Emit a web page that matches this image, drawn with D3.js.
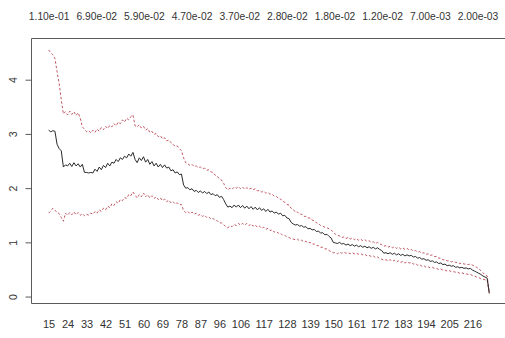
<!DOCTYPE html>
<html><head><meta charset="utf-8">
<script src="https://cdn.jsdelivr.net/npm/d3@7"></script>
<style>html,body{margin:0;padding:0;background:#fff;}svg{display:block;}</style>
</head><body>
<script>
const startIndex = 15;
const meanVals = [
3.06,3.03,3.05,3.04,2.80,2.72,2.68,2.38,2.42,2.40,
2.45,2.39,2.46,2.40,2.44,2.38,2.43,2.28,2.28,2.27,
2.28,2.27,2.34,2.30,2.38,2.33,2.41,2.37,2.45,2.40,
2.47,2.45,2.52,2.48,2.55,2.52,2.58,2.55,2.62,2.58,
2.65,2.52,2.46,2.55,2.50,2.57,2.47,2.52,2.43,2.48,
2.40,2.45,2.38,2.43,2.37,2.42,2.36,2.38,2.31,2.33,
2.27,2.29,2.24,2.25,2.05,1.99,2.00,1.96,1.98,1.93,
1.95,1.91,1.94,1.90,1.93,1.89,1.92,1.87,1.89,1.85,
1.87,1.82,1.84,1.78,1.70,1.64,1.66,1.63,1.68,1.64,
1.68,1.63,1.67,1.62,1.66,1.61,1.65,1.60,1.64,1.59,
1.63,1.58,1.61,1.56,1.60,1.55,1.57,1.53,1.55,1.51,
1.53,1.48,1.49,1.44,1.43,1.36,1.33,1.31,1.32,1.29,
1.30,1.27,1.28,1.24,1.25,1.22,1.23,1.19,1.20,1.16,
1.17,1.13,1.14,1.10,1.07,0.99,0.98,0.97,0.99,0.96,
0.97,0.94,0.96,0.93,0.95,0.92,0.94,0.91,0.93,0.90,
0.92,0.89,0.91,0.88,0.90,0.87,0.89,0.86,0.84,0.79,
0.80,0.78,0.80,0.77,0.79,0.76,0.78,0.75,0.77,0.74,
0.76,0.74,0.75,0.72,0.73,0.70,0.71,0.68,0.69,0.66,
0.67,0.64,0.65,0.62,0.63,0.60,0.61,0.58,0.59,0.56,
0.57,0.55,0.56,0.53,0.54,0.52,0.53,0.51,0.52,0.50,
0.51,0.48,0.46,0.44,0.42,0.40,0.37,0.35,0.33,0.05
];
const upperVals = [
4.54,4.49,4.45,4.38,4.14,3.92,3.62,3.36,3.40,3.34,
3.41,3.35,3.40,3.33,3.38,3.28,3.12,3.08,3.03,3.05,
3.01,3.06,3.02,3.08,3.04,3.11,3.07,3.13,3.09,3.15,
3.12,3.18,3.14,3.21,3.18,3.25,3.21,3.28,3.25,3.31,
3.34,3.14,3.12,3.16,3.10,3.13,3.06,3.09,3.02,3.04,
2.98,3.00,2.94,2.96,2.90,2.92,2.86,2.88,2.83,2.80,
2.76,2.77,2.72,2.68,2.55,2.46,2.44,2.41,2.43,2.39,
2.40,2.37,2.38,2.35,2.36,2.32,2.33,2.29,2.28,2.23,
2.21,2.16,2.14,2.08,2.00,1.96,1.99,1.97,2.01,1.99,
2.02,1.98,2.01,1.97,2.00,1.97,1.99,1.96,1.98,1.94,
1.95,1.92,1.93,1.90,1.91,1.88,1.88,1.84,1.84,1.80,
1.79,1.75,1.73,1.69,1.68,1.62,1.60,1.55,1.55,1.51,
1.51,1.47,1.47,1.44,1.44,1.40,1.39,1.35,1.34,1.30,
1.29,1.27,1.26,1.24,1.22,1.18,1.14,1.12,1.11,1.08,
1.09,1.06,1.08,1.05,1.07,1.04,1.06,1.03,1.05,1.02,
1.04,1.01,1.02,0.99,1.00,0.97,0.99,0.96,0.95,0.92,
0.93,0.90,0.92,0.89,0.91,0.88,0.90,0.87,0.89,0.86,
0.88,0.85,0.86,0.83,0.84,0.81,0.82,0.79,0.80,0.77,
0.78,0.75,0.76,0.73,0.73,0.70,0.70,0.67,0.67,0.65,
0.65,0.63,0.64,0.62,0.62,0.60,0.61,0.59,0.59,0.58,
0.59,0.57,0.55,0.53,0.50,0.47,0.43,0.39,0.37,0.05
];
const lowerVals = [
1.53,1.57,1.62,1.58,1.55,1.52,1.45,1.38,1.53,1.49,
1.54,1.50,1.55,1.50,1.54,1.49,1.52,1.48,1.51,1.49,
1.53,1.51,1.56,1.53,1.59,1.56,1.62,1.59,1.66,1.63,
1.70,1.67,1.74,1.71,1.78,1.76,1.82,1.80,1.87,1.85,
1.92,1.86,1.81,1.87,1.83,1.90,1.83,1.87,1.81,1.85,
1.80,1.83,1.78,1.81,1.76,1.79,1.74,1.77,1.72,1.74,
1.70,1.72,1.68,1.69,1.58,1.54,1.56,1.52,1.55,1.51,
1.53,1.49,1.51,1.47,1.49,1.45,1.46,1.42,1.43,1.40,
1.39,1.35,1.35,1.32,1.28,1.26,1.29,1.28,1.32,1.30,
1.34,1.31,1.34,1.31,1.34,1.30,1.33,1.29,1.31,1.27,
1.29,1.25,1.27,1.23,1.25,1.21,1.22,1.18,1.19,1.16,
1.16,1.12,1.12,1.09,1.08,1.06,1.05,1.04,1.05,1.02,
1.03,1.00,1.01,0.98,0.99,0.96,0.96,0.93,0.93,0.90,
0.90,0.87,0.87,0.84,0.82,0.80,0.80,0.78,0.81,0.79,
0.81,0.79,0.80,0.78,0.80,0.78,0.79,0.77,0.78,0.76,
0.77,0.74,0.75,0.73,0.74,0.71,0.72,0.69,0.68,0.66,
0.67,0.65,0.67,0.64,0.66,0.63,0.65,0.62,0.64,0.61,
0.63,0.61,0.62,0.59,0.60,0.57,0.58,0.55,0.56,0.53,
0.54,0.52,0.53,0.51,0.51,0.49,0.50,0.48,0.48,0.46,
0.47,0.45,0.45,0.44,0.44,0.42,0.43,0.41,0.41,0.40,
0.40,0.38,0.37,0.35,0.34,0.32,0.31,0.30,0.29,0.05
];
const bottomTicks = [15,24,33,42,51,60,69,78,87,96,106,117,128,139,150,161,172,183,194,205,216];
const topTickAt = [15,37.6,60.2,82.8,105.4,128,150.6,173.2,195.8,218.4];
const topTickLabels = ["1.10e-01","6.90e-02","5.90e-02","4.70e-02","3.70e-02","2.80e-02","1.80e-02","1.20e-02","7.00e-03","2.00e-03"];
const yTicks = [0,1,2,3,4];

const W = 505, H = 338;
const svg = d3.select("body").append("svg").attr("width", W).attr("height", H)
  .style("font-family", "'Liberation Sans', Arial, sans-serif");
svg.append("rect").attr("width", W).attr("height", H).attr("fill", "#fff");

const n = meanVals.length;
const idx = d3.range(n).map(i => startIndex + i);
const x = d3.scaleLinear().domain([6.64, 232.4]).range([31, 507]);
const y = d3.scaleLinear().domain([-0.128, 4.76]).range([303, 38]);

// box (top, left, bottom)
svg.append("path").attr("fill", "none").attr("stroke", "#5a5a5a").attr("stroke-width", 1)
  .attr("d", `M${x.range()[1]},38.5H31.5V303.5H${x.range()[1]}`);

// left axis
const yAxis = d3.axisLeft(y).tickValues(yTicks).tickSize(6).tickFormat(d3.format("d"));
const gy = svg.append("g").attr("transform", "translate(31.5,0.5)").call(yAxis);
gy.select(".domain").remove();
gy.selectAll(".tick line").attr("stroke", "#5a5a5a");
gy.selectAll(".tick text").attr("x", 0).attr("dy", 0)
  .attr("transform", "translate(-15,0) rotate(-90)")
  .attr("text-anchor", "middle").attr("fill", "#333").style("font-size", "10.5px");

// bottom labels
const xAxis = d3.axisBottom(x).tickValues(bottomTicks).tickSize(0).tickPadding(0).tickFormat(d3.format("d"));
const gx = svg.append("g").attr("transform", "translate(0,320)").call(xAxis);
gx.select(".domain").remove();
gx.selectAll(".tick text").attr("fill", "#333").style("font-size", "11px").attr("dy", "0.71em");

// top labels
const xTop = d3.axisTop(x).tickValues(topTickAt).tickSize(0).tickPadding(0).tickFormat((d, i) => topTickLabels[i]);
const gt = svg.append("g").attr("transform", "translate(0,20)").call(xTop);
gt.select(".domain").remove();
gt.selectAll(".tick text").attr("fill", "#333").style("font-size", "10.3px").attr("dy", "0");

const line = d3.line().x((d, i) => x(idx[i])).y(d => y(d));
[upperVals, lowerVals].forEach(vals => {
  svg.append("path").datum(vals).attr("d", line).attr("fill", "none")
    .attr("stroke", "#b53a45").attr("stroke-width", 1).attr("stroke-dasharray", "2.5,2").attr("opacity", 0.85);
});
svg.append("path").datum(meanVals).attr("d", line).attr("fill", "none")
  .attr("stroke", "#2a2a2a").attr("stroke-width", 1);
</script>
</body></html>
